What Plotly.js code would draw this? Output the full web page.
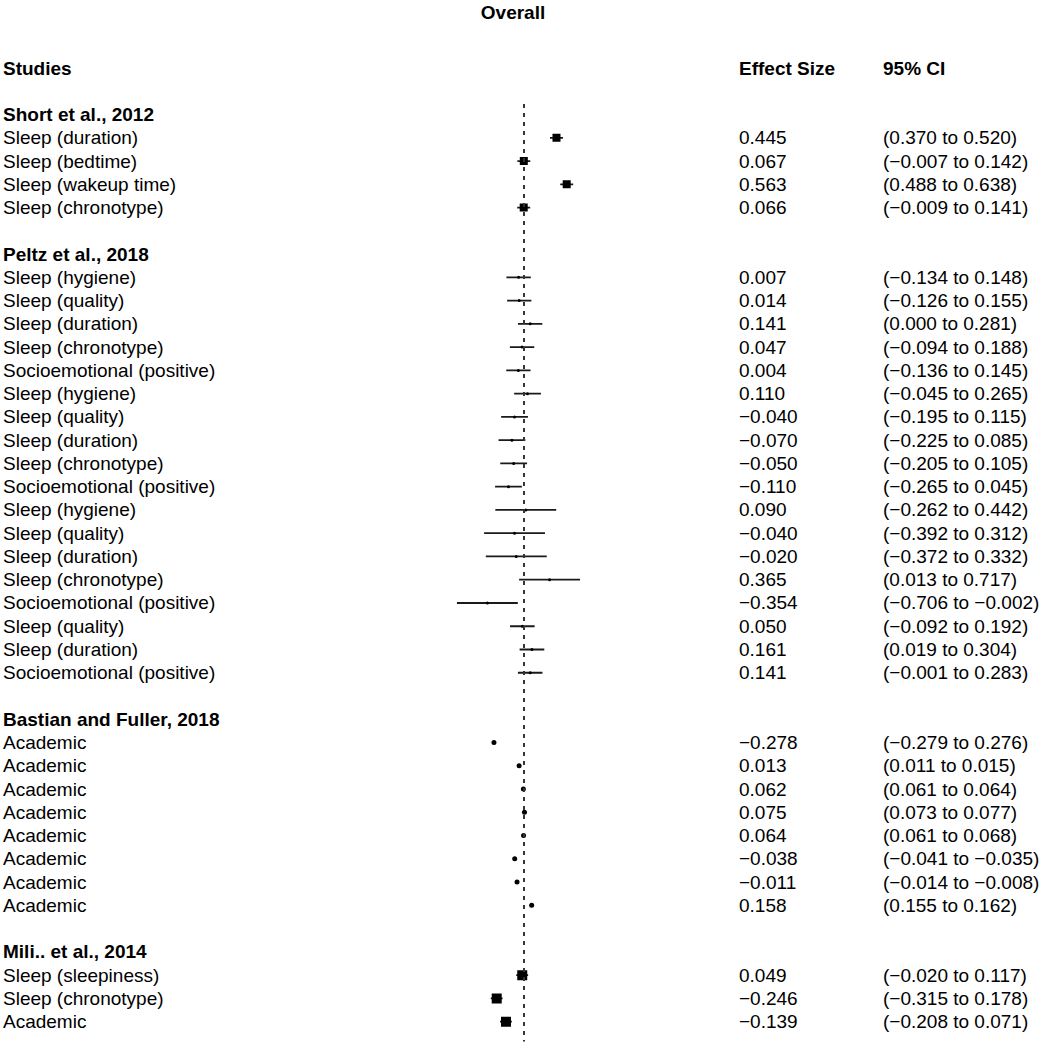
<!DOCTYPE html>
<html>
<head>
<meta charset="utf-8">
<script src="https://cdn.plot.ly/plotly-3.0.1.min.js"></script>
<style>html,body{margin:0;padding:0;background:#fff;}</style>
</head>
<body>
<div id="chart" style="width:1047px;height:1050px;"></div>
<script>
// ---------- DATA ----------
const studyNames = ['Short et al., 2012', 'Peltz et al., 2018', 'Bastian and Fuller, 2018', 'Mili.. et al., 2014'];
const studyCounts = [4, 18, 8, 3];

const outcomeLabels = [
  'Sleep (duration)', 'Sleep (bedtime)', 'Sleep (wakeup time)', 'Sleep (chronotype)',
  'Sleep (hygiene)', 'Sleep (quality)', 'Sleep (duration)', 'Sleep (chronotype)', 'Socioemotional (positive)',
  'Sleep (hygiene)', 'Sleep (quality)', 'Sleep (duration)', 'Sleep (chronotype)', 'Socioemotional (positive)',
  'Sleep (hygiene)', 'Sleep (quality)', 'Sleep (duration)', 'Sleep (chronotype)', 'Socioemotional (positive)',
  'Sleep (quality)', 'Sleep (duration)', 'Socioemotional (positive)',
  'Academic', 'Academic', 'Academic', 'Academic', 'Academic', 'Academic', 'Academic', 'Academic',
  'Sleep (sleepiness)', 'Sleep (chronotype)', 'Academic'
];

const effectSizes = [
  0.445, 0.067, 0.563, 0.066,
  0.007, 0.014, 0.141, 0.047, 0.004,
  0.110, -0.040, -0.070, -0.050, -0.110,
  0.090, -0.040, -0.020, 0.365, -0.354,
  0.050, 0.161, 0.141,
  -0.278, 0.013, 0.062, 0.075, 0.064, -0.038, -0.011, 0.158,
  0.049, -0.246, -0.139
];

// CI bounds as drawn in the plot
const ciLow = [
  0.370, -0.007, 0.488, -0.009,
  -0.134, -0.126, 0.000, -0.094, -0.136,
  -0.045, -0.195, -0.225, -0.205, -0.265,
  -0.262, -0.392, -0.372, 0.013, -0.706,
  -0.092, 0.019, -0.001,
  -0.279, 0.011, 0.061, 0.073, 0.061, -0.041, -0.014, 0.155,
  -0.020, -0.315, -0.208
];
const ciHigh = [
  0.520, 0.142, 0.638, 0.141,
  0.148, 0.155, 0.281, 0.188, 0.145,
  0.265, 0.115, 0.085, 0.105, 0.045,
  0.442, 0.312, 0.332, 0.717, -0.002,
  0.192, 0.304, 0.283,
  -0.276, 0.015, 0.064, 0.077, 0.068, -0.035, -0.008, 0.162,
  0.117, -0.178, -0.071
];

// CI labels as printed in the table column
const ciLabels = [
  '(0.370 to 0.520)', '(−0.007 to 0.142)', '(0.488 to 0.638)', '(−0.009 to 0.141)',
  '(−0.134 to 0.148)', '(−0.126 to 0.155)', '(0.000 to 0.281)', '(−0.094 to 0.188)', '(−0.136 to 0.145)',
  '(−0.045 to 0.265)', '(−0.195 to 0.115)', '(−0.225 to 0.085)', '(−0.205 to 0.105)', '(−0.265 to 0.045)',
  '(−0.262 to 0.442)', '(−0.392 to 0.312)', '(−0.372 to 0.332)', '(0.013 to 0.717)', '(−0.706 to −0.002)',
  '(−0.092 to 0.192)', '(0.019 to 0.304)', '(−0.001 to 0.283)',
  '(−0.279 to 0.276)', '(0.011 to 0.015)', '(0.061 to 0.064)', '(0.073 to 0.077)', '(0.061 to 0.068)', '(−0.041 to −0.035)', '(−0.014 to −0.008)', '(0.155 to 0.162)',
  '(−0.020 to 0.117)', '(−0.315 to 0.178)', '(−0.208 to 0.071)'
];

const overallEffect = 0.069;
const columnHeaders = ['Studies', 'Effect Size', '95% CI'];
const chartTitle = 'Overall';

// ---------- LAYOUT HELPERS ----------
const W = 1047, H = 1050;
const FONT = 'Liberation Sans, Arial, Helvetica, sans-serif';
const FS = 19;
const colX = [2, 738, 882];           // pixel left edges of text columns
const px = v => v / W;
const fmt = v => (v < 0 ? '−' : '') + Math.abs(v).toFixed(3);

const markerStyles = [
  {symbol: 'square', size: 8},
  {symbol: 'circle', size: 3},
  {symbol: 'circle', size: 5},
  {symbol: 'square', size: 10}
];

const annotations = [];
const traces = [];

function addText(col, y, text, bold) {
  annotations.push({
    xref: 'paper', yref: 'y', x: px(colX[col]), y: y,
    xanchor: 'left', yanchor: 'middle', showarrow: false, borderpad: 0,
    text: bold ? '<b>' + text + '</b>' : text,
    font: {family: FONT, size: FS, color: '#000'}
  });
}

columnHeaders.forEach((h, i) => addText(i, 0, h, true));

let row = 0, k = 0;
studyNames.forEach((name, s) => {
  row += 2;
  addText(0, row, name, true);
  const xs = [], ys = [], plus = [], minus = [];
  for (let j = 0; j < studyCounts[s]; j++, k++) {
    row += 1;
    addText(0, row, outcomeLabels[k], false);
    addText(1, row, fmt(effectSizes[k]), false);
    addText(2, row, ciLabels[k], false);
    xs.push(effectSizes[k]); ys.push(row);
    plus.push(ciHigh[k] - effectSizes[k]);
    minus.push(effectSizes[k] - ciLow[k]);
  }
  traces.push({
    type: 'scatter', mode: 'markers', x: xs, y: ys,
    marker: {symbol: markerStyles[s].symbol, size: markerStyles[s].size, color: '#000', line: {width: 0}},
    error_x: {type: 'data', symmetric: false, array: plus, arrayminus: minus, width: 0, thickness: 1.8, color: '#1a1a1a'},
    hoverinfo: 'skip', showlegend: false
  });
});

// y axis: row index -> pixels (row 0 at 68px, step 23.26px)
const rowTop = 68, rowStep = 23.26;
const yTop = -rowTop / rowStep, yBottom = (H - rowTop) / rowStep;
// x axis: value 0 at 518px, 86.5px per unit
const x0px = 518, kpx = 86.5;
const xLo = -1, xHi = 1;

const layout = {
  width: W, height: H,
  margin: {l: 0, r: 0, t: 0, b: 0, pad: 0},
  paper_bgcolor: '#fff', plot_bgcolor: '#fff',
  showlegend: false,
  title: {text: '<b>' + chartTitle + '</b>', x: 513 / W, xanchor: 'center', xref: 'paper',
          y: 1 - 12 / H, yanchor: 'middle', yref: 'container',
          font: {family: FONT, size: FS, color: '#000'}},
  xaxis: {visible: false, range: [xLo, xHi], fixedrange: true,
          domain: [px(x0px + xLo * kpx), px(x0px + xHi * kpx)]},
  yaxis: {visible: false, range: [yBottom, yTop], fixedrange: true},
  shapes: [{
    type: 'line', xref: 'x', yref: 'y', x0: overallEffect, x1: overallEffect, y0: 1.55, y1: 41.85,
    line: {color: '#333', width: 2, dash: '4px,5px'}
  }],
  annotations: annotations
};

Plotly.newPlot('chart', traces, layout, {staticPlot: true, displayModeBar: false});
</script>
</body>
</html>
